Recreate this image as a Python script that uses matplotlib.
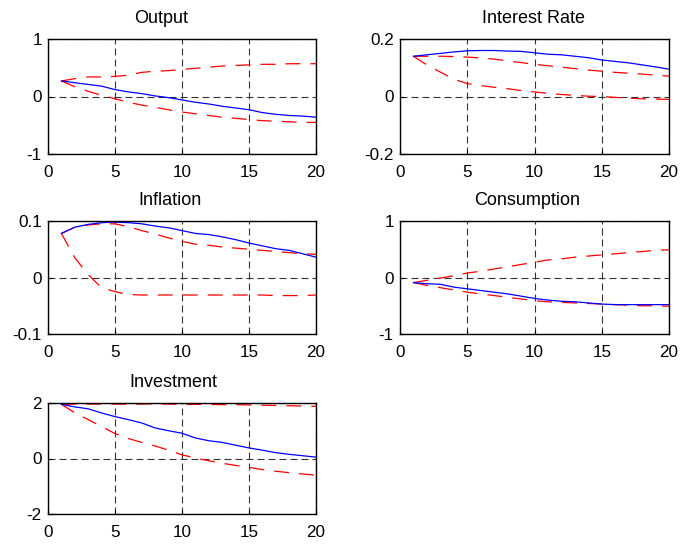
import numpy as np
import matplotlib.pyplot as plt

plt.rcParams['font.family'] = ['Liberation Sans', 'DejaVu Sans']

# impulse responses (median) and 90% bands, horizon 1..20
horizon = np.arange(1, 21)

output_med = [0.27, 0.24, 0.21, 0.18, 0.12, 0.08, 0.05, 0.01, -0.02, -0.06,
              -0.10, -0.13, -0.17, -0.20, -0.23, -0.28, -0.31, -0.33, -0.34, -0.36]
output_hi = [0.27, 0.31, 0.34, 0.34, 0.35, 0.37, 0.42, 0.44, 0.45, 0.47,
             0.49, 0.51, 0.53, 0.54, 0.55, 0.56, 0.56, 0.57, 0.57, 0.57]
output_lo = [0.27, 0.17, 0.09, 0.02, -0.04, -0.10, -0.15, -0.19, -0.23, -0.27,
             -0.30, -0.33, -0.36, -0.38, -0.40, -0.42, -0.43, -0.44, -0.45, -0.45]

rate_med = [0.14, 0.145, 0.15, 0.155, 0.159, 0.16, 0.16, 0.158, 0.157, 0.152,
            0.147, 0.145, 0.14, 0.135, 0.127, 0.122, 0.117, 0.11, 0.103, 0.095]
rate_hi = [0.14, 0.14, 0.14, 0.139, 0.137, 0.134, 0.13, 0.124, 0.118, 0.112,
           0.107, 0.102, 0.097, 0.092, 0.088, 0.084, 0.081, 0.078, 0.074, 0.071]
rate_lo = [0.14, 0.11, 0.085, 0.06, 0.045, 0.038, 0.032, 0.027, 0.021, 0.016,
           0.011, 0.007, 0.004, 0.001, 0.0, -0.003, -0.006, -0.008, -0.009, -0.01]

infl_med = [0.078, 0.089, 0.094, 0.097, 0.098, 0.097, 0.095, 0.091, 0.088, 0.083,
            0.078, 0.076, 0.072, 0.067, 0.061, 0.056, 0.051, 0.048, 0.042, 0.036]
infl_hi = [0.078, 0.089, 0.093, 0.095, 0.095, 0.09, 0.083, 0.077, 0.07, 0.064,
           0.059, 0.057, 0.054, 0.052, 0.05, 0.048, 0.046, 0.044, 0.042, 0.041]
infl_lo = [0.078, 0.035, 0.005, -0.018, -0.025, -0.03, -0.031, -0.031, -0.031, -0.031,
           -0.031, -0.031, -0.031, -0.031, -0.031, -0.031, -0.032, -0.032, -0.032, -0.031]

cons_med = [-0.09, -0.11, -0.12, -0.17, -0.20, -0.23, -0.26, -0.29, -0.33, -0.37,
            -0.40, -0.42, -0.43, -0.45, -0.47, -0.48, -0.48, -0.48, -0.48, -0.48]
cons_hi = [-0.09, -0.05, -0.01, 0.03, 0.08, 0.11, 0.15, 0.19, 0.23, 0.27,
           0.31, 0.33, 0.36, 0.38, 0.40, 0.42, 0.44, 0.46, 0.48, 0.49]
cons_lo = [-0.09, -0.14, -0.18, -0.22, -0.26, -0.29, -0.32, -0.35, -0.38, -0.41,
           -0.43, -0.44, -0.45, -0.46, -0.47, -0.48, -0.49, -0.50, -0.50, -0.51]

inv_med = [1.95, 1.86, 1.79, 1.64, 1.51, 1.40, 1.28, 1.10, 1.00, 0.91,
           0.74, 0.64, 0.58, 0.48, 0.38, 0.30, 0.21, 0.15, 0.10, 0.05]
inv_hi = [1.95, 1.96, 1.96, 1.96, 1.96, 1.96, 1.96, 1.97, 1.96, 1.95,
          1.95, 1.95, 1.94, 1.94, 1.93, 1.92, 1.91, 1.90, 1.89, 1.88]
inv_lo = [1.95, 1.65, 1.40, 1.15, 0.90, 0.72, 0.58, 0.45, 0.30, 0.13,
          0.02, -0.08, -0.17, -0.25, -0.32, -0.40, -0.46, -0.51, -0.56, -0.60]

titles = ['Output', 'Interest Rate', 'Inflation', 'Consumption', 'Investment']
y_limits = [1, 0.2, 0.1, 1, 2]
y_ticks = [[-1, 0, 1], [-0.2, 0, 0.2], [-0.1, 0, 0.1], [-1, 0, 1], [-2, 0, 2]]
y_ticklabels = [['-1', '0', '1'], ['-0.2', '0', '0.2'], ['-0.1', '0', '0.1'],
                ['-1', '0', '1'], ['-2', '0', '2']]
medians = [output_med, rate_med, infl_med, cons_med, inv_med]
uppers = [output_hi, rate_hi, infl_hi, cons_hi, inv_hi]
lowers = [output_lo, rate_lo, infl_lo, cons_lo, inv_lo]

W, H = 683, 548
fig = plt.figure(figsize=(W / 100, H / 100), dpi=100)

# panel boxes in pixels: left, top, right, bottom
boxes = [(48, 39, 316, 154), (400, 39, 669, 154),
         (48, 221, 316, 334), (400, 221, 669, 334),
         (48, 403, 316, 514)]
# horizontal pixel centre of each title
title_cx = [161, 534, 170, 527, 173]

for i in range(5):
    l, t, r, b = boxes[i]
    ax = fig.add_axes([l / W, 1 - b / H, (r - l) / W, (b - t) / H])

    ax.plot(horizon, uppers[i], color='red', lw=0.9, dashes=(12, 8))
    ax.plot(horizon, lowers[i], color='red', lw=0.9, dashes=(12, 8))
    ax.plot(horizon, medians[i], color='blue', lw=0.9)

    ax.set_xlim(0, 20)
    ax.set_ylim(-y_limits[i], y_limits[i])
    ax.set_xticks([0, 5, 10, 15, 20])
    ax.set_yticks(y_ticks[i])
    ax.set_yticklabels(y_ticklabels[i])
    ax.grid(True, color='#333333', lw=0.8, linestyle=(0, (6.3, 3.6)))
    ax.tick_params(direction='in', length=3, width=0.8, labelsize=12.3,
                   top=False, right=False)
    ax.tick_params(axis='x', pad=8)
    ax.tick_params(axis='y', pad=4.5)
    for s in ax.spines.values():
        s.set_linewidth(1.0)
    ax.set_title(titles[i], fontsize=13, pad=11.5,
                 x=(title_cx[i] - l) / (r - l))

fig.savefig('out.png', dpi=100)
